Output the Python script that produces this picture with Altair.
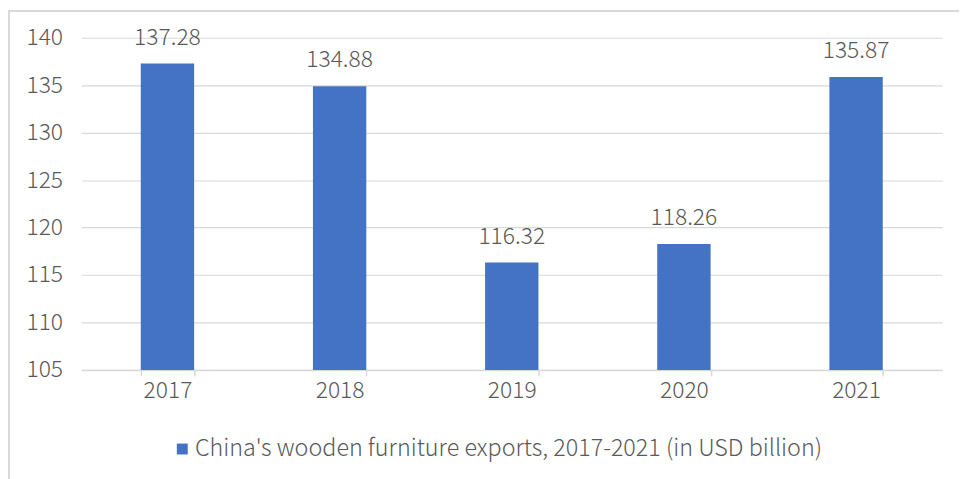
import altair as alt
import pandas as pd

years = ["2017", "2018", "2019", "2020", "2021"]
values = [137.28, 134.88, 116.32, 118.26, 135.87]
series_name = "China's wooden furniture exports, 2017-2021 (in USD billion)"
y_ticks = [105, 110, 115, 120, 125, 130, 135, 140]

df = pd.DataFrame({"year": years, "value": values, "series": [series_name] * len(years)})

FONT = "Noto Sans CJK SC"
FS = 23
LFS = 23.5
FW = 300
TEXT = "#595959"
GRID = "#D9D9D9"
BLUE = "#4472C4"

W, H = 868, 335
PL, PT, PR, PB = 74, 28, 17, 108

x = alt.X("year:N", title=None, scale=alt.Scale(paddingInner=0.69, paddingOuter=0.345),
          axis=alt.Axis(labelAngle=0, labelFont=FONT, labelFontSize=FS, labelFontWeight=FW,
                        labelColor=TEXT,
                        domainColor=GRID, domainWidth=1.5, tickColor=GRID, tickWidth=1.5,
                        tickSize=6, tickBand="extent", labelPadding=4, grid=False))
y = alt.Y("value:Q", title=None,
          scale=alt.Scale(domain=[105, 140], zero=False, nice=False),
          axis=alt.Axis(values=y_ticks, labelFont=FONT, labelFontSize=FS, labelFontWeight=FW,
                        labelColor=TEXT,
                        domain=False, ticks=False, labelPadding=19, gridColor=GRID, gridWidth=1.2))

frame = alt.Chart(df).mark_rect(fill="transparent", stroke=GRID, strokeWidth=2).encode(
    x=alt.value(-PL + 1), x2=alt.value(W + PR + 20), y=alt.value(-PT + 1), y2=alt.value(H + PB + 20)
)

bars = alt.Chart(df).mark_bar(color=BLUE).encode(
    x=x, y=y, y2=alt.datum(105),
    color=alt.Color("series:N", scale=alt.Scale(range=[BLUE]),
                    legend=alt.Legend(title=None, orient="none", legendX=90, legendY=403,
                                      symbolType="square", symbolSize=121, symbolStrokeWidth=0,
                                      labelFont=FONT, labelFontSize=LFS, labelFontWeight=FW,
                                      labelColor=TEXT, labelLimit=900, labelOffset=1)),
)

labels = alt.Chart(df).mark_text(font=FONT, fontSize=FS, fontWeight=FW, color=TEXT,
                                 baseline="alphabetic", dy=-19).encode(
    x=x, y=y, text=alt.Text("value:Q", format=".2f")
)

chart = alt.layer(frame, bars, labels).properties(
    width=W, height=H, autosize=alt.AutoSizeParams(type="none"),
    padding={"left": PL, "top": PT, "right": PR, "bottom": PB},
).configure_view(stroke=None)

chart.save("out.html", embed_options={"renderer": "svg", "actions": False})
